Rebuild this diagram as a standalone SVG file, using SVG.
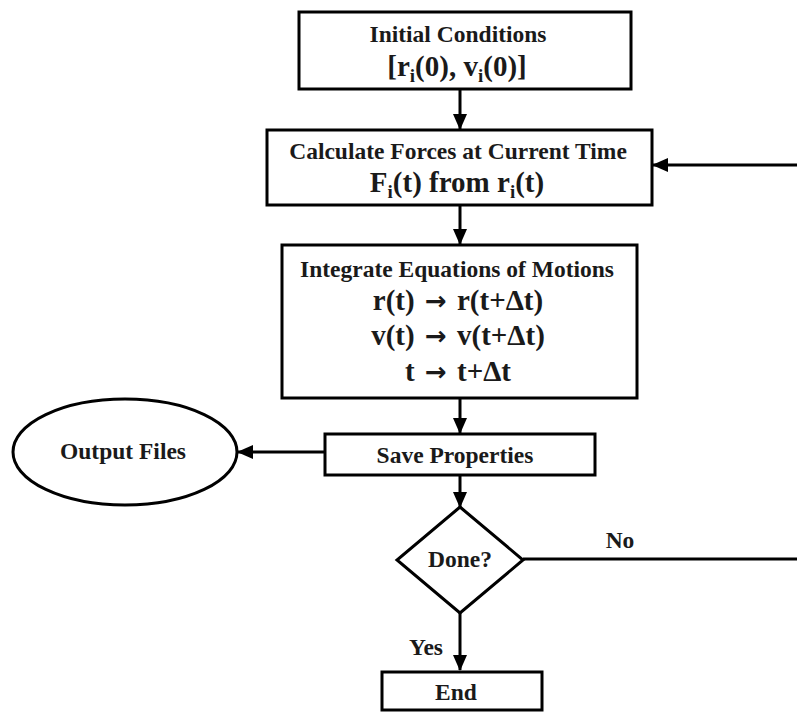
<svg xmlns="http://www.w3.org/2000/svg" width="797" height="712" viewBox="0 0 797 712">
<style>
.box{fill:#fff;stroke:#000;stroke-width:3}
.t{font-family:"Liberation Serif","Times New Roman",serif;font-weight:bold;fill:#1a1a1a;text-anchor:middle}
.h{font-size:23.5px}
.b{font-size:29px}
.sub{font-size:19px}
.ar{font-family:"DejaVu Sans",sans-serif;font-size:26px;font-weight:bold}
.c{fill:none;stroke:#000;stroke-width:3}
</style>
<defs>
<marker id="arr" markerUnits="userSpaceOnUse" markerWidth="16" markerHeight="14" refX="15" refY="7" orient="auto">
<path d="M0,0 L16,7 L0,14 z" fill="#000"/>
</marker>
</defs>
<rect width="797" height="712" fill="#fff"/>
<g id="connectors">
<line class="c" x1="460" y1="89" x2="460" y2="129" marker-end="url(#arr)"/>
<line class="c" x1="460" y1="205" x2="460" y2="244" marker-end="url(#arr)"/>
<line class="c" x1="460" y1="398" x2="460" y2="433" marker-end="url(#arr)"/>
<line class="c" x1="460" y1="475" x2="460" y2="507" marker-end="url(#arr)"/>
<line class="c" x1="325" y1="452" x2="238" y2="452" marker-end="url(#arr)"/>
<line class="c" x1="460" y1="613" x2="460" y2="670" marker-end="url(#arr)"/>
<path class="c" d="M523,559 H802 V165 H653" marker-end="url(#arr)"/>
<text class="t h" x="620" y="548">No</text>
<text class="t h" x="426" y="655">Yes</text>
</g>
<g id="initial">
<rect class="box" x="299" y="12" width="332" height="77"/>
<text class="t h" x="458" y="42">Initial Conditions</text>
<text class="t b" x="457" y="76">[r<tspan class="sub" dy="6">i</tspan><tspan dy="-6">(0), v</tspan><tspan class="sub" dy="6">i</tspan><tspan dy="-6">(0)]</tspan></text>
</g>
<g id="forces">
<rect class="box" x="267" y="130" width="385" height="75"/>
<text class="t h" x="458" y="159">Calculate Forces at Current Time</text>
<text class="t b" x="457" y="192">F<tspan class="sub" dy="6">i</tspan><tspan dy="-6">(t) from r</tspan><tspan class="sub" dy="6">i</tspan><tspan dy="-6">(t)</tspan></text>
</g>
<g id="integrate">
<rect class="box" x="282" y="245" width="355" height="153"/>
<text class="t h" x="457" y="277">Integrate Equations of Motions</text>
<text class="t b" x="458" y="310">r(t) <tspan class="ar" dx="3">→</tspan><tspan dx="3"> r(t+Δt)</tspan></text>
<text class="t b" x="458" y="345">v(t) <tspan class="ar" dx="3">→</tspan><tspan dx="3"> v(t+Δt)</tspan></text>
<text class="t b" x="458" y="381">t <tspan class="ar" dx="3">→</tspan><tspan dx="3"> t+Δt</tspan></text>
</g>
<g id="save">
<rect class="box" x="325" y="434" width="270" height="41"/>
<text class="t h" x="455" y="463">Save Properties</text>
</g>
<g id="output">
<ellipse class="box" cx="125" cy="452" rx="112" ry="53"/>
<text class="t h" x="123" y="459">Output Files</text>
</g>
<g id="done">
<polygon class="box" points="460,507 523,560 460,613 397,560"/>
<text class="t h" x="460" y="567">Done?</text>
</g>
<g id="end">
<rect class="box" x="382" y="672" width="160" height="38"/>
<text class="t h" x="456" y="700">End</text>
</g>
</svg>
